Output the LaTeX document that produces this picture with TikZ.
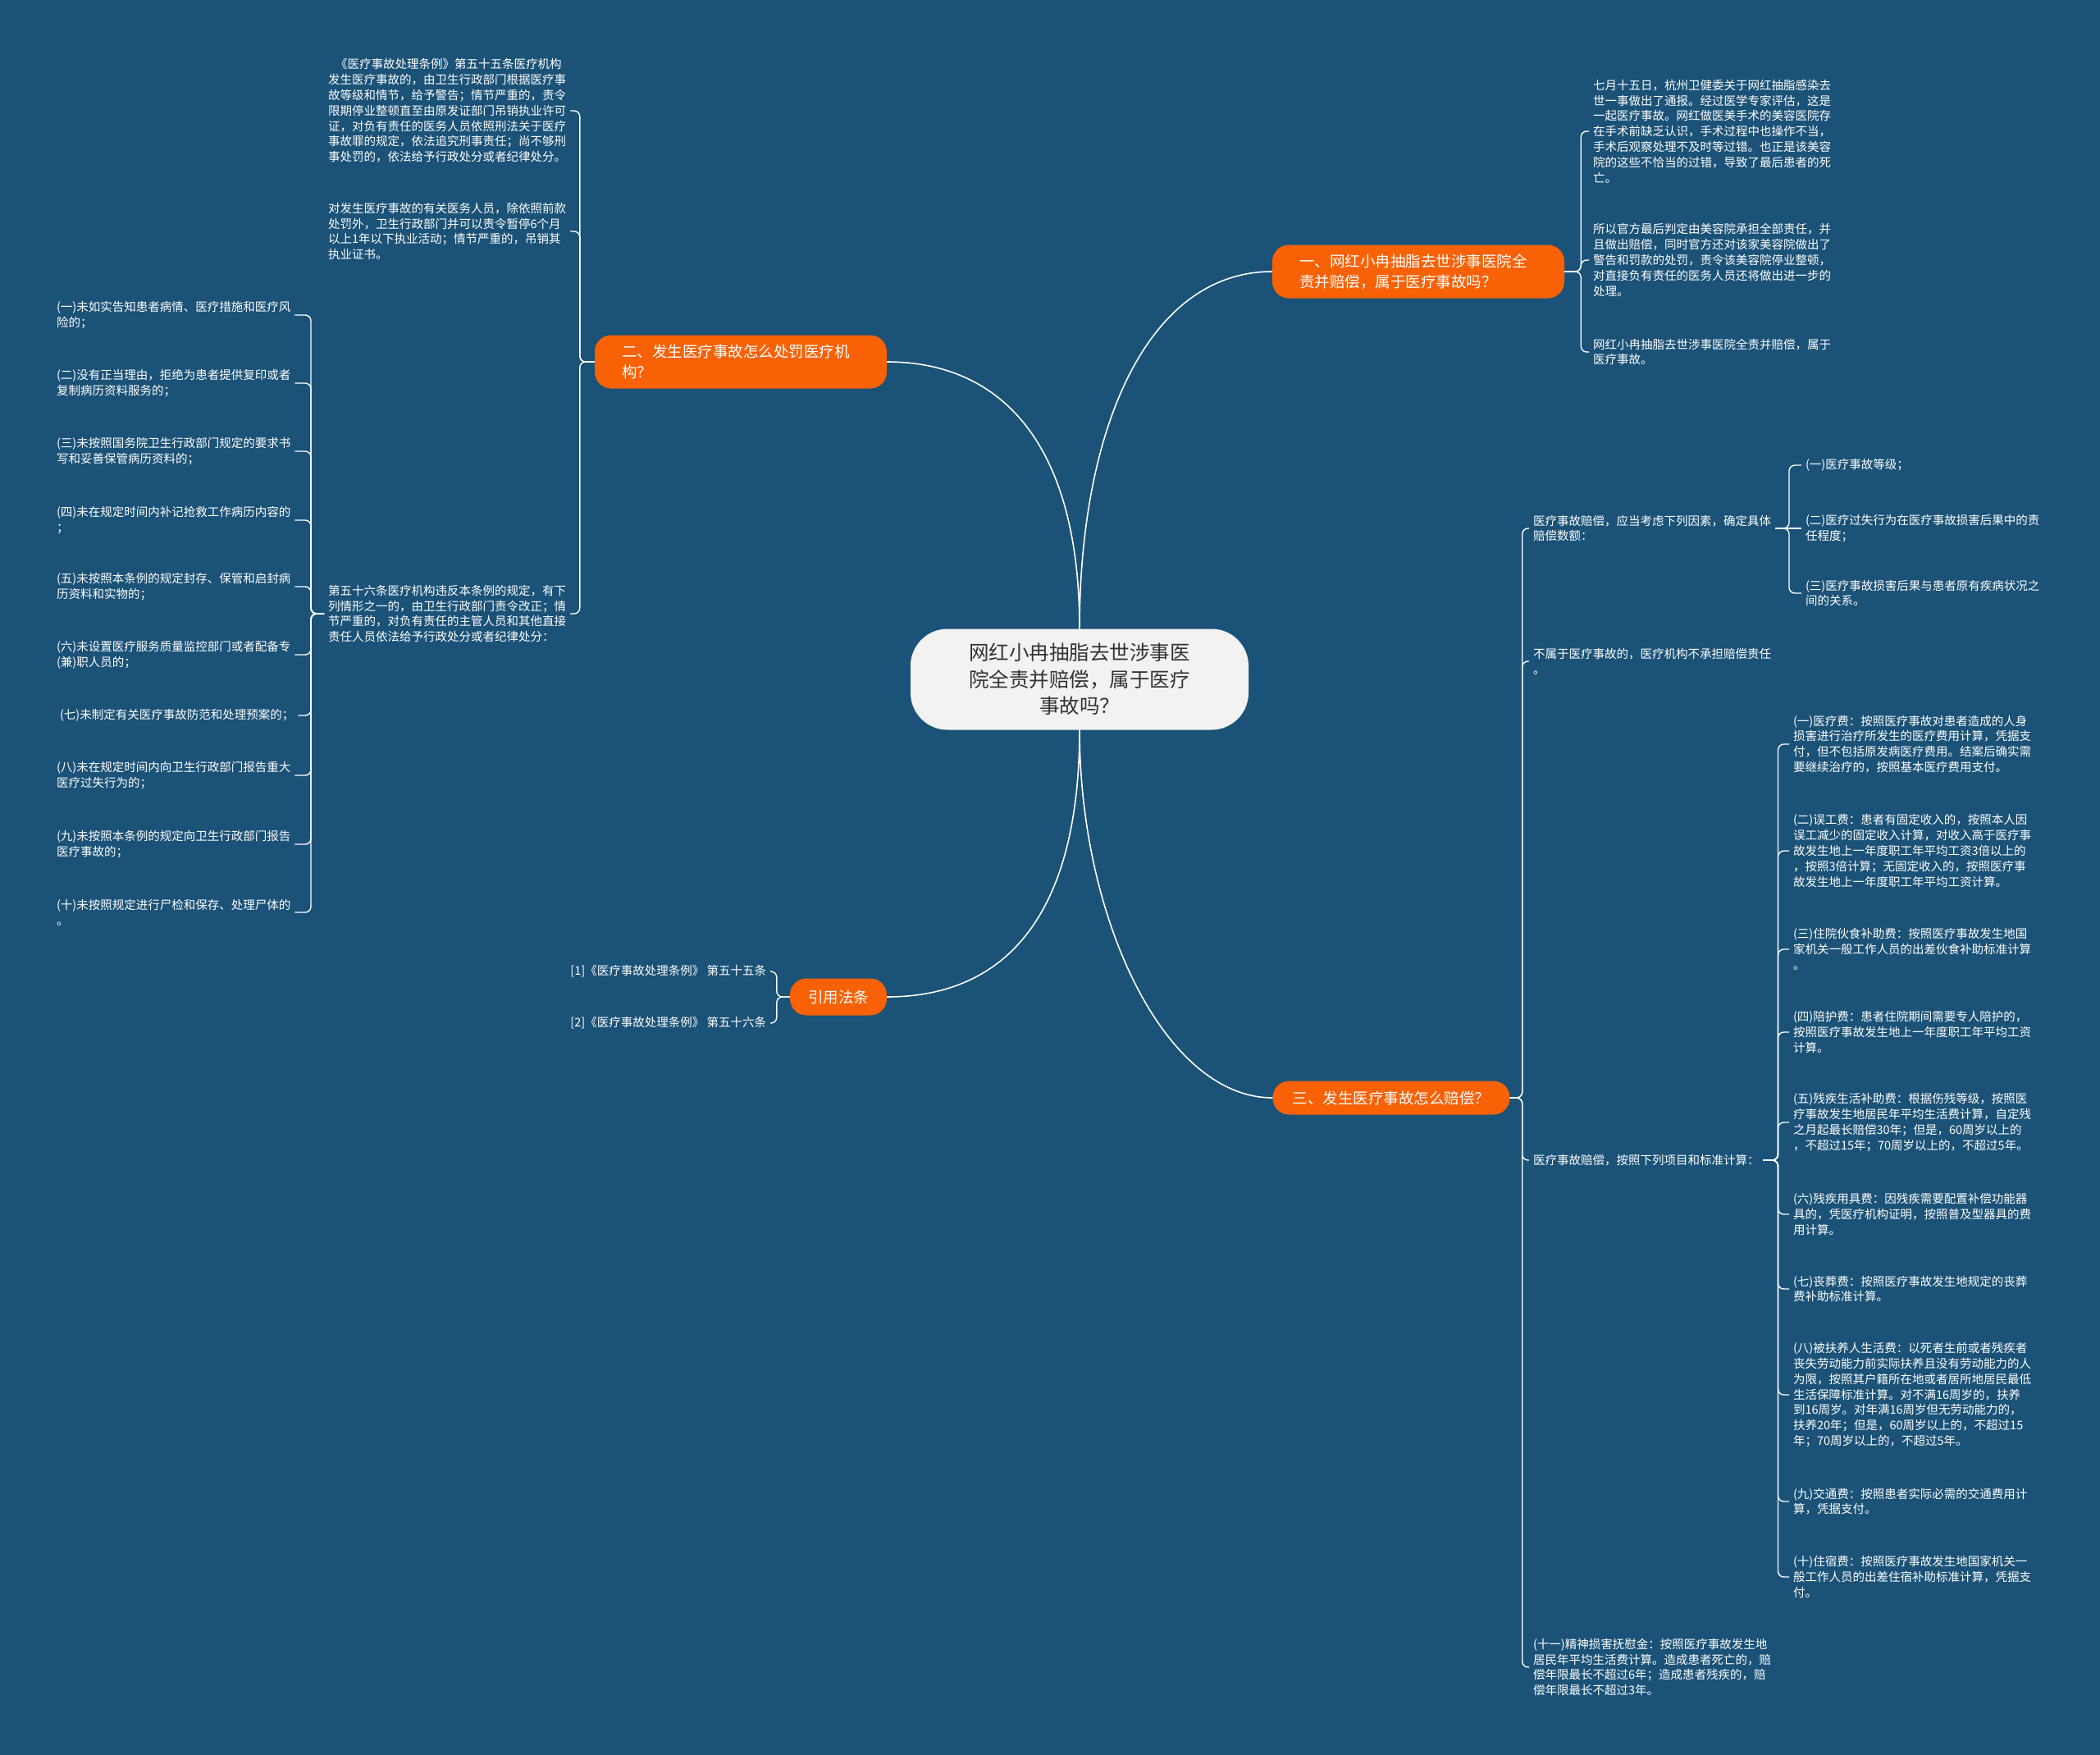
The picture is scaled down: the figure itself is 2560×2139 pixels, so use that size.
\documentclass[tikz,border=0pt]{standalone}
\usepackage{fontspec}
\setmainfont{Noto Sans CJK SC}
\definecolor{bg}{HTML}{1B5277}
\definecolor{org}{HTML}{F86106}
\definecolor{ctr}{HTML}{F2F2F2}
\definecolor{ctrtxt}{HTML}{333333}
\tikzset{
 leaf/.style={inner sep=0pt, outer xsep=5pt, outer ysep=0pt, align=left, text=white, font=\fontsize{14.5}{18.8}\selectfont},
 lw/.style={leaf, anchor=west},
 le/.style={leaf, anchor=east},
 topic/.style={fill=org, text=white, rounded corners=20pt, font=\fontsize{18.5}{24.5}\selectfont, inner sep=0pt},
 conn/.style={draw=white, line width=1.4pt, rounded corners=7pt},
 mainline/.style={draw=white, line width=1.6pt},
}
\begin{document}
\begin{tikzpicture}[x=1pt,y=-1pt]
\useasboundingbox (0,0) rectangle (2560,2139);
\fill[bg] (0,0) rectangle (2560,2139);

% central and main topics
\node[fill=ctr, rounded corners=45pt, minimum width=412pt, minimum height=123pt, text=ctrtxt, align=center, font=\fontsize{24.5}{32.6}\selectfont, inner sep=0pt] (root) at (1316,828) {网红小冉抽脂去世涉事医\\院全责并赔偿，属于医疗\\事故吗？};
\node[topic, minimum width=356pt, minimum height=65pt, text width=290pt, align=left] (n1) at (1729,331) {一、网红小冉抽脂去世涉事医院全\\责并赔偿，属于医疗事故吗？};
\node[topic, minimum width=356pt, minimum height=65pt, text width=290pt, align=left] (n2) at (903,441) {二、发生医疗事故怎么处罚医疗机\\构？};
\node[topic, minimum width=289pt, minimum height=41pt] (n3) at (1696,1338) {三、发生医疗事故怎么赔偿？};
\node[topic, minimum width=118pt, minimum height=45pt] (n4) at (1022,1215) {引用法条};

\draw[mainline] (root.north) .. controls (1316,520) and (1400,331) .. (n1.west);
\draw[mainline] (root.north) .. controls (1316,540) and (1220,441) .. (n2.east);
\draw[mainline] (root.south) .. controls (1316,1110) and (1230,1215) .. (n4.east);
\draw[mainline] (root.south) .. controls (1316,1120) and (1420,1338) .. (n3.west);

% topic one
\node[lw] (t1) at (1937,160) {七月十五日，杭州卫健委关于网红抽脂感染去\\世一事做出了通报。经过医学专家评估，这是\\一起医疗事故。网红做医美手术的美容医院存\\在手术前缺乏认识，手术过程中也操作不当，\\手术后观察处理不及时等过错。也正是该美容\\院的这些不恰当的过错，导致了最后患者的死\\亡。};
\node[lw] (t2) at (1937,317) {所以官方最后判定由美容院承担全部责任，并\\且做出赔偿，同时官方还对该家美容院做出了\\警告和罚款的处罚，责令该美容院停业整顿，\\对直接负有责任的医务人员还将做出进一步的\\处理。};
\node[lw] (t3) at (1937,429) {网红小冉抽脂去世涉事医院全责并赔偿，属于\\医疗事故。};
\draw[conn] (n1.east) -- ++(20,0) |- (t1.west);
\draw[conn] (n1.east) -- ++(20,0) |- (t2.west);
\draw[conn] (n1.east) -- ++(20,0) |- (t3.west);

% topic two
\node[lw] (a) at (395,135) {\hspace*{9pt}《医疗事故处理条例》第五十五条医疗机构\\发生医疗事故的，由卫生行政部门根据医疗事\\故等级和情节，给予警告；情节严重的，责令\\限期停业整顿直至由原发证部门吊销执业许可\\证，对负有责任的医务人员依照刑法关于医疗\\事故罪的规定，依法追究刑事责任；尚不够刑\\事处罚的，依法给予行政处分或者纪律处分。};
\node[lw] (b) at (395,282) {对发生医疗事故的有关医务人员，除依照前款\\处罚外，卫生行政部门并可以责令暂停6个月\\以上1年以下执业活动；情节严重的，吊销其\\执业证书。};
\node[lw] (c) at (395,748) {第五十六条医疗机构违反本条例的规定，有下\\列情形之一的，由卫生行政部门责令改正；情\\节严重的，对负有责任的主管人员和其他直接\\责任人员依法给予行政处分或者纪律处分：};
\draw[conn] (n2.west) -- ++(-18,0) |- (a.east);
\draw[conn] (n2.west) -- ++(-18,0) |- (b.east);
\draw[conn] (n2.west) -- ++(-18,0) |- (c.east);

\node[lw] (i1) at (64,384) {(一)未如实告知患者病情、医疗措施和医疗风\\险的；};
\node[lw] (i2) at (64,467) {(二)没有正当理由，拒绝为患者提供复印或者\\复制病历资料服务的；};
\node[lw] (i3) at (64,550) {(三)未按照国务院卫生行政部门规定的要求书\\写和妥善保管病历资料的；};
\node[lw] (i4) at (64,634) {(四)未在规定时间内补记抢救工作病历内容的\\；};
\node[lw] (i5) at (64,715) {(五)未按照本条例的规定封存、保管和启封病\\历资料和实物的；};
\node[lw] (i6) at (64,798) {(六)未设置医疗服务质量监控部门或者配备专\\(兼)职人员的；};
\node[lw] (i7) at (68,872) {(七)未制定有关医疗事故防范和处理预案的；};
\node[lw] (i8) at (64,945) {(八)未在规定时间内向卫生行政部门报告重大\\医疗过失行为的；};
\node[lw] (i9) at (64,1029) {(九)未按照本条例的规定向卫生行政部门报告\\医疗事故的；};
\node[lw] (i10) at (64,1112) {(十)未按照规定进行尸检和保存、处理尸体的\\。};
\foreach \k in {1,...,10}{\draw[conn] (c.west) -- ++(-16,0) |- (i\k.east);}

% references
\node[le] (r1) at (939,1184) {[1]《医疗事故处理条例》 第五十五条};
\node[le] (r2) at (939,1247) {[2]《医疗事故处理条例》 第五十六条};
\draw[conn] (n4.west) -- ++(-16,0) |- (r1.east);
\draw[conn] (n4.west) -- ++(-16,0) |- (r2.east);

% topic three
\node[lw] (d) at (1864,644) {医疗事故赔偿，应当考虑下列因素，确定具体\\赔偿数额：};
\node[lw] (d1) at (2196,567) {(一)医疗事故等级；};
\node[lw] (d2) at (2196,644) {(二)医疗过失行为在医疗事故损害后果中的责\\任程度；};
\node[lw] (d3) at (2196,723) {(三)医疗事故损害后果与患者原有疾病状况之\\间的关系。};
\draw[conn] (d.east) -- ++(17,0) |- (d1.west);
\draw[conn] (d.east) -- (d.east -| d2.west);
\draw[conn] (d.east) -- ++(17,0) |- (d3.west);

\node[lw] (e) at (1864,806) {不属于医疗事故的，医疗机构不承担赔偿责任\\。};
\node[lw] (f) at (1864,1414) {医疗事故赔偿，按照下列项目和标准计算：};
\node[lw] (g) at (1864,2032) {(十一)精神损害抚慰金：按照医疗事故发生地\\居民年平均生活费计算。造成患者死亡的，赔\\偿年限最长不超过6年；造成患者残疾的，赔\\偿年限最长不超过3年。};
\draw[conn] (n3.east) -- ++(15,0) |- (d.west);
\draw[conn] (n3.east) -- ++(15,0) |- (e.west);
\draw[conn] (n3.east) -- ++(15,0) |- (f.west);
\draw[conn] (n3.east) -- ++(15,0) |- (g.west);

\node[lw] (f1) at (2181,907) {(一)医疗费：按照医疗事故对患者造成的人身\\损害进行治疗所发生的医疗费用计算，凭据支\\付，但不包括原发病医疗费用。结案后确实需\\要继续治疗的，按照基本医疗费用支付。};
\node[lw] (f2) at (2181,1037) {(二)误工费：患者有固定收入的，按照本人因\\误工减少的固定收入计算，对收入高于医疗事\\故发生地上一年度职工年平均工资3倍以上的\\，按照3倍计算；无固定收入的，按照医疗事\\故发生地上一年度职工年平均工资计算。};
\node[lw] (f3) at (2181,1157) {(三)住院伙食补助费：按照医疗事故发生地国\\家机关一般工作人员的出差伙食补助标准计算\\。};
\node[lw] (f4) at (2181,1258) {(四)陪护费：患者住院期间需要专人陪护的，\\按照医疗事故发生地上一年度职工年平均工资\\计算。};
\node[lw] (f5) at (2181,1368) {(五)残疾生活补助费：根据伤残等级，按照医\\疗事故发生地居民年平均生活费计算，自定残\\之月起最长赔偿30年；但是，60周岁以上的\\，不超过15年；70周岁以上的，不超过5年。};
\node[lw] (f6) at (2181,1480) {(六)残疾用具费：因残疾需要配置补偿功能器\\具的，凭医疗机构证明，按照普及型器具的费\\用计算。};
\node[lw] (f7) at (2181,1571) {(七)丧葬费：按照医疗事故发生地规定的丧葬\\费补助标准计算。};
\node[lw] (f8) at (2181,1700) {(八)被扶养人生活费：以死者生前或者残疾者\\丧失劳动能力前实际扶养且没有劳动能力的人\\为限，按照其户籍所在地或者居所地居民最低\\生活保障标准计算。对不满16周岁的，扶养\\到16周岁。对年满16周岁但无劳动能力的，\\扶养20年；但是，60周岁以上的，不超过15\\年；70周岁以上的，不超过5年。};
\node[lw] (f9) at (2181,1830) {(九)交通费：按照患者实际必需的交通费用计\\算，凭据支付。};
\node[lw] (f10) at (2181,1922) {(十)住宿费：按照医疗事故发生地国家机关一\\般工作人员的出差住宿补助标准计算，凭据支\\付。};
\foreach \k in {1,...,10}{\draw[conn] (f.east) -- ++(18,0) |- (f\k.west);}
\end{tikzpicture}
\end{document}
